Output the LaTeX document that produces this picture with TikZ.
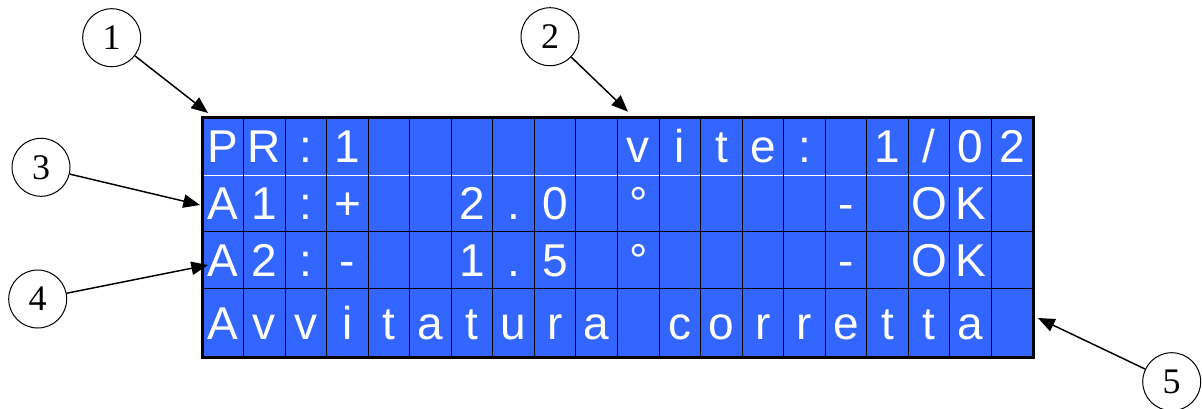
\documentclass[tikz,border=0pt]{standalone}
\usepackage{fontspec}
\setmainfont{Liberation Serif}
\newfontfamily\lcdfont{Liberation Sans}
\usetikzlibrary{arrows.meta}
\definecolor{lcdblue}{RGB}{51,102,255}

\begin{document}
\begin{tikzpicture}[x=0.75pt,y=-0.75pt,
  num/.style={draw,circle,line width=0.75pt,minimum size=43.5pt,inner sep=0pt,
    font=\fontsize{27}{27}\selectfont},
  pointer/.style={line width=1.1pt,-{Triangle[length=12.5pt,width=10pt]}},
  ch/.style={anchor=base,inner sep=0pt,text=white,
    font=\lcdfont\fontsize{34.5}{40}\selectfont}]
\useasboundingbox (0,0) rectangle (1202,408);
\fill[lcdblue] (202,117) rectangle (1033,357);
\draw[white,line width=0.6pt] (202,175)--(1033,175);
\draw[line width=0.7pt] (202,231)--(1033,231);
\draw[line width=0.7pt] (202,288)--(1033,288);
\foreach \i in {1,...,19}
  \draw[line width=0.7pt] ({202+41.55*\i},117)--({202+41.55*\i},357);
\draw[line width=2.25pt] (202,117) rectangle (1033,357);
\foreach \c [count=\i from 0] in {P,R,:,1,,,,,,,v,i,t,e,:,,1,/,0,2}
  \node[ch] (a\i) at ({222.8+41.55*\i},162.5) {\c};
\foreach \c [count=\i from 0] in {A,1,:,+,,,2,.,0,,°,,,,,-,,O,K,}
  \node[ch] (b\i) at ({222.8+41.55*\i},219.5) {\c};
\foreach \c [count=\i from 0] in {A,2,:,-,,,1,.,5,,°,,,,,-,,O,K,}
  \node[ch] (c\i) at ({222.8+41.55*\i},276) {\c};
\foreach \c [count=\i from 0] in {A,v,v,i,t,a,t,u,r,a,,c,o,r,r,e,t,t,a,}
  \node[ch] (d\i) at ({222.8+41.55*\i},339) {\c};
\node[num] (n1) at (111.7,37.7) {1};
\node[num] (n2) at (550,36.7) {2};
\node[num] (n3) at (41,167.3) {3};
\node[num] (n4) at (37.7,299) {4};
\node[num] (n5) at (1171.7,381.7) {5};
\coordinate (t1) at (208,113);
\coordinate (t2) at (628,111.7);
\coordinate (t3) at (200,205);
\coordinate (t4) at (208,265);
\coordinate (t5) at (1038,318);
\draw[pointer] (n1)--(t1);
\draw[pointer] (n2)--(t2);
\draw[pointer] (n3)--(t3);
\draw[pointer] (n4)--(t4);
\draw[pointer] (n5)--(t5);
\end{tikzpicture}
\end{document}
